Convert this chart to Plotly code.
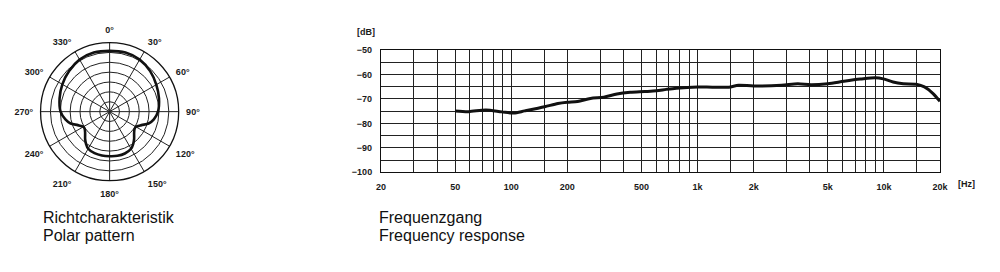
import plotly.graph_objects as go

# ---------------- data ----------------
polar_angles = [0, 15, 30, 45, 60, 75, 90, 100, 107, 113, 120, 125, 131, 138, 144, 150, 160, 170, 180,
                190, 200, 210, 216, 222, 229, 235, 240, 247, 253, 260, 270, 285, 300, 315, 330, 345, 360]
polar_r = [0.88, 0.885, 0.87, 0.83, 0.78, 0.74, 0.70, 0.65, 0.59, 0.50, 0.44, 0.44, 0.47, 0.53, 0.58,
           0.62, 0.645, 0.65, 0.645, 0.645, 0.64, 0.62, 0.58, 0.53, 0.47, 0.44, 0.44, 0.50, 0.59, 0.65,
           0.71, 0.75, 0.79, 0.83, 0.87, 0.885, 0.88]
polar_tick_angles = [0, 30, 60, 90, 120, 150, 180, 210, 240, 270, 300, 330]
polar_tick_labels = ["0°", "30°", "60°", "90°", "120°", "150°", "180°", "210°", "240°", "270°", "300°", "330°"]
polar_rings = [1/7, 2/7, 3/7, 4/7, 5/7, 6/7, 1.0]

freq_hz = [50, 59, 73, 89, 103, 118, 151, 178, 200, 227, 266, 314, 369, 435, 520, 601, 679, 768, 1000,
           1200, 1470, 1660, 2000, 2820, 3450, 4060, 5000, 6100, 7480, 8980, 9940, 11200, 12700, 14900,
           16500, 18300, 20000]
level_db = [-74.9, -75.2, -74.5, -75.3, -75.8, -74.9, -73.2, -71.9, -71.4, -71.1, -69.8, -69.3, -68.0,
            -67.3, -67.0, -66.7, -66.1, -65.6, -65.1, -65.2, -65.2, -64.4, -64.7, -64.4, -63.8, -64.2,
            -63.8, -62.8, -61.9, -61.3, -61.8, -63.1, -63.8, -64.0, -65.1, -67.7, -71.0]
x_tickvals = [20, 50, 100, 200, 500, 1000, 2000, 5000, 10000, 20000]
x_ticktext = ["20", "50", "100", "200", "500", "1k", "2k", "5k", "10k", "20k"]
x_minor = [30, 40, 60, 70, 80, 90, 150, 300, 400, 600, 700, 800, 900, 1500, 3000, 4000, 6000, 7000,
           8000, 9000, 15000]
y_tickvals = [-100, -90, -80, -70, -60, -50]
y_ticktext = ["−100", "−90", "−80", "−70", "−60", "−50"]
y_minor = [-95, -85, -75, -65, -55]

W, H = 1000, 272
def px(x):
    return x / W
def py(y):
    return (H - y) / H

tick_font = dict(family="Liberation Sans, Arial, sans-serif", size=9, color="#1a1a1a", weight="bold")
cap_font = dict(family="Liberation Sans, Arial, sans-serif", size=16, color="#111111")

fig = go.Figure()

fig.add_trace(go.Scatterpolar(
    theta=polar_angles, r=polar_r, mode="lines",
    line=dict(color="#111111", width=2.6, shape="spline", smoothing=0.8),
    showlegend=False, hoverinfo="skip"))

fig.add_trace(go.Scatter(
    x=freq_hz, y=level_db, mode="lines",
    line=dict(color="#111111", width=3, shape="spline", smoothing=0.8),
    showlegend=False, hoverinfo="skip", xaxis="x", yaxis="y"))

cx, cy, R = 106, 110.7, 71.7
fig.update_layout(
    width=W, height=H,
    margin=dict(l=0, r=0, t=0, b=0),
    paper_bgcolor="white", plot_bgcolor="white",
    polar=dict(
        domain=dict(x=[px(cx - R), px(cx + R)], y=[py(cy + R), py(cy - R)]),
        bgcolor="white",
        angularaxis=dict(rotation=90, direction="clockwise", tickmode="array",
                         tickvals=polar_tick_angles, ticktext=polar_tick_labels,
                         showline=True, linecolor="#111111", linewidth=1.3,
                         gridcolor="#222222", gridwidth=1,
                         ticks="outside", ticklen=5, tickcolor="rgba(0,0,0,0)",
                         tickfont=tick_font),
        radialaxis=dict(range=[0, 1], tickmode="array", tickvals=polar_rings,
                        showticklabels=False, ticks="", showline=False,
                        gridcolor="#222222", gridwidth=1),
    ),
    xaxis=dict(type="log", range=[1.30103, 4.30103], domain=[px(381), px(947.3)],
               tickmode="array", tickvals=x_tickvals, ticktext=x_ticktext,
               showgrid=True, gridcolor="#222222", gridwidth=1,
               minor=dict(tickmode="array", tickvals=x_minor, showgrid=True,
                          gridcolor="#222222", gridwidth=1, ticks=""),
               showline=True, mirror=True, linecolor="#111111", linewidth=1.2,
               ticks="", ticklabelstandoff=6, tickfont=tick_font, zeroline=False, anchor="y"),
    yaxis=dict(range=[-100, -50], domain=[py(173.7), py(46.7)],
               tickmode="array", tickvals=y_tickvals, ticktext=y_ticktext,
               showgrid=True, gridcolor="#222222", gridwidth=1,
               minor=dict(tickmode="array", tickvals=y_minor, showgrid=True,
                          gridcolor="#222222", gridwidth=1, ticks=""),
               showline=True, mirror=True, linecolor="#111111", linewidth=1.2,
               ticks="", ticklabelstandoff=6, tickfont=tick_font, zeroline=False, anchor="x"),
)

annos = [
    dict(text="[dB]", x=px(366), y=py(28.5), xanchor="center", yanchor="middle", font=tick_font),
    dict(text="[Hz]", x=px(974), y=py(186), xanchor="center", yanchor="middle", font=tick_font),
    dict(text="Richtcharakteristik", x=px(36), y=py(221), xanchor="left", yanchor="middle", font=cap_font),
    dict(text="Polar pattern", x=px(36), y=py(239.5), xanchor="left", yanchor="middle", font=cap_font),
    dict(text="Frequenzgang", x=px(376.5), y=py(221), xanchor="left", yanchor="middle", font=cap_font),
    dict(text="Frequency response", x=px(376.5), y=py(239.5), xanchor="left", yanchor="middle", font=cap_font),
]
for a in annos:
    fig.add_annotation(xref="paper", yref="paper", showarrow=False, **a)

fig.write_html("out.html")
